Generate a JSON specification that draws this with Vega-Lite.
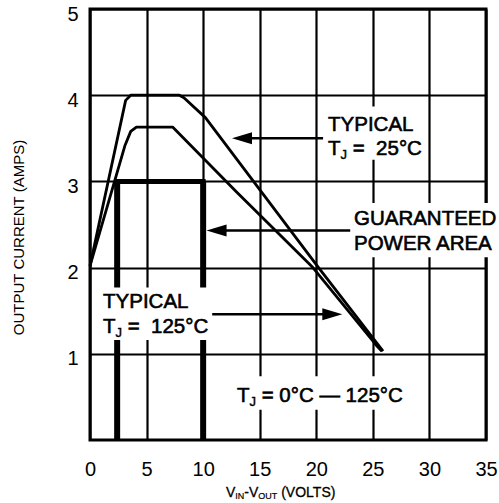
{
  "$schema": "https://vega.github.io/schema/vega-lite/v6.json",
  "width": 396,
  "height": 431,
  "autosize": {"type": "none"},
  "padding": {"left": 90, "top": 9, "right": 13, "bottom": 63},
  "background": "white",
  "config": {
    "view": {"stroke": "black", "strokeWidth": 3},
    "axis": {
      "grid": true, "gridColor": "black", "gridWidth": 2.2, "gridOpacity": 1,
      "domain": false, "ticks": false,
      "labelFont": "Liberation Sans", "labelFontSize": 20, "labelColor": "black",
      "labelFlush": false, "labelOverlap": false
    }
  },
  "datasets": {
    "curves": [
      {"s": "a", "x": 0, "y": 2.02}, {"s": "a", "x": 3.15, "y": 3.94}, {"s": "a", "x": 3.6, "y": 4.0},
      {"s": "a", "x": 7.9, "y": 4.0}, {"s": "a", "x": 8.3, "y": 3.97}, {"s": "a", "x": 10.2, "y": 3.74},
      {"s": "a", "x": 20.2, "y": 2.0}, {"s": "a", "x": 25.9, "y": 1.03},
      {"s": "b", "x": 0, "y": 2.02}, {"s": "b", "x": 3.1, "y": 3.42}, {"s": "b", "x": 3.6, "y": 3.58},
      {"s": "b", "x": 4.1, "y": 3.63}, {"s": "b", "x": 7.3, "y": 3.63}, {"s": "b", "x": 13.0, "y": 2.87},
      {"s": "b", "x": 19.7, "y": 2.0}, {"s": "b", "x": 25.3, "y": 1.1}, {"s": "b", "x": 25.8, "y": 1.03}
    ],
    "boxH": [{"x": 2.4, "x2": 10, "y": 3}],
    "boxV": [{"x": 2.4, "y": 0, "y2": 3}, {"x": 10, "y": 0, "y2": 3}],
    "masks": [
      {"x": 20.8, "x2": 29.7, "y": 3.25, "y2": 3.87},
      {"x": 23.2, "x2": 36.2, "y": 2.12, "y2": 2.75},
      {"x": 1.0, "x2": 10.6, "y": 1.16, "y2": 1.77},
      {"x": 12.8, "x2": 28.4, "y": 0.35, "y2": 0.74}
    ],
    "arrows": [
      {"x": 13.9, "x2": 20.6, "y": 3.5},
      {"x": 11.7, "x2": 23.0, "y": 2.43},
      {"x": 10.8, "x2": 21.0, "y": 1.46}
    ],
    "headL": [{"x": 12.55, "y": 3.5}, {"x": 10.3, "y": 2.43}],
    "headR": [{"x": 22.3, "y": 1.46}],
    "labels": [
      {"x": 21.04, "y": 3.585, "t": "TYPICAL"},
      {"x": 21.04, "y": 3.306, "t": "T"},
      {"x": 23.22, "y": 3.306, "t": "=\u00a0\u00a025°C"},
      {"x": 23.33, "y": 2.494, "t": "GUARANTEED"},
      {"x": 23.33, "y": 2.204, "t": "POWER AREA"},
      {"x": 1.15, "y": 1.531, "t": "TYPICAL"},
      {"x": 1.15, "y": 1.241, "t": "T"},
      {"x": 3.33, "y": 1.241, "t": "=\u00a0\u00a0125°C"},
      {"x": 12.99, "y": 0.441, "t": "T"},
      {"x": 15.17, "y": 0.441, "t": "=\u00a00°C\u00a0—\u00a0125°C"}
    ],
    "subs": [
      {"x": 22.14, "y": 3.26, "t": "J"},
      {"x": 2.25, "y": 1.195, "t": "J"},
      {"x": 14.1, "y": 0.394, "t": "J"}
    ],
    "xt": [
      {"x": 12.02, "y": -0.661, "t": "V"},
      {"x": 13.63, "y": -0.661, "t": "-V"},
      {"x": 16.9, "y": -0.661, "t": "(VOLTS)"}
    ],
    "xs": [
      {"x": 12.84, "y": -0.684, "t": "IN"},
      {"x": 14.87, "y": -0.684, "t": "OUT"}
    ]
  },
  "encoding": {
    "x": {
      "field": "x", "type": "quantitative",
      "scale": {"domain": [0, 35], "nice": false, "zero": false},
      "axis": {"values": [0, 5, 10, 15, 20, 25, 30, 35], "labelPadding": 19, "title": null}
    },
    "y": {
      "field": "y", "type": "quantitative",
      "scale": {"domain": [0, 5], "nice": false, "zero": false},
      "axis": {
        "values": [1, 2, 3, 4, 5], "labelPadding": 12, "labelOffset": 5, "labelBaseline": "middle",
        "title": "OUTPUT CURRENT (AMPS)", "titleFont": "Liberation Sans", "titleFontSize": 15,
        "titleFontWeight": "normal", "titleColor": "black", "titleX": -72, "titleY": 228,
        "titleBaseline": "middle", "titleAlign": "center", "titleAngle": -90
      }
    }
  },
  "layer": [
    {
      "data": {"name": "boxV"},
      "mark": {"type": "rule", "color": "black", "strokeWidth": 6},
      "encoding": {"y2": {"field": "y2"}}
    },
    {
      "data": {"name": "boxH"},
      "mark": {"type": "rule", "color": "black", "strokeWidth": 5, "strokeCap": "square"},
      "encoding": {"x2": {"field": "x2"}}
    },
    {
      "data": {"name": "masks"},
      "mark": {"type": "rect", "color": "white", "opacity": 1},
      "encoding": {"x2": {"field": "x2"}, "y2": {"field": "y2"}}
    },
    {
      "data": {"name": "curves"},
      "mark": {"type": "line", "color": "black", "strokeWidth": 2.8, "strokeJoin": "round"},
      "encoding": {"detail": {"field": "s"}}
    },
    {
      "data": {"name": "arrows"},
      "mark": {"type": "rule", "color": "black", "strokeWidth": 2.5},
      "encoding": {"x2": {"field": "x2"}}
    },
    {
      "data": {"name": "headL"},
      "mark": {"type": "point", "shape": "M0,0L2,-0.6L2,0.6Z", "size": 400, "filled": true, "color": "black", "opacity": 1, "strokeWidth": 0}
    },
    {
      "data": {"name": "headR"},
      "mark": {"type": "point", "shape": "M0,0L-2,-0.6L-2,0.6Z", "size": 400, "filled": true, "color": "black", "opacity": 1, "strokeWidth": 0}
    },
    {
      "data": {"name": "labels"},
      "mark": {"type": "text", "font": "Liberation Sans", "fontSize": 20.5, "align": "left", "baseline": "alphabetic", "fill": "black", "stroke": "black", "strokeWidth": 0.6},
      "encoding": {"text": {"field": "t"}}
    },
    {
      "data": {"name": "subs"},
      "mark": {"type": "text", "font": "Liberation Sans", "fontSize": 13, "align": "left", "baseline": "alphabetic", "fill": "black", "stroke": "black", "strokeWidth": 0.4},
      "encoding": {"text": {"field": "t"}}
    },
    {
      "data": {"name": "xt"},
      "mark": {"type": "text", "font": "Liberation Sans", "fontSize": 14, "align": "left", "baseline": "alphabetic", "fill": "black", "stroke": "black", "strokeWidth": 0.3},
      "encoding": {"text": {"field": "t"}}
    },
    {
      "data": {"name": "xs"},
      "mark": {"type": "text", "font": "Liberation Sans", "fontSize": 9, "align": "left", "baseline": "alphabetic", "fill": "black", "stroke": "black", "strokeWidth": 0.2},
      "encoding": {"text": {"field": "t"}}
    }
  ]
}
